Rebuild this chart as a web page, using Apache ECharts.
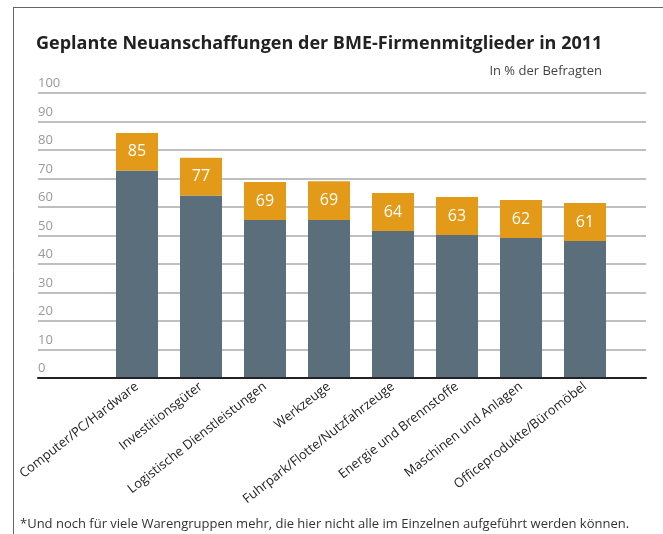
<!DOCTYPE html>
<html>
<head>
<meta charset="utf-8">
<script src="https://cdn.jsdelivr.net/npm/echarts@6/dist/echarts.min.js"></script>
<style>
html,body{margin:0;padding:0;background:#fff;}
#c{width:663px;height:534px;}
</style>
</head>
<body>
<div id="c"></div>
<script>
const categories = ["Computer/PC/Hardware","Investitionsgüter","Logistische Dienstleistungen","Werkzeuge","Fuhrpark/Flotte/Nutzfahrzeuge","Energie und Brennstoffe","Maschinen und Anlagen","Officeprodukte/Büromöbel"];
const totals = [85, 77, 69, 69, 64, 63, 62, 61];
const baseValues = [72.8, 64.0, 55.4, 55.4, 51.6, 50.2, 49.1, 48.1];
const labelBoxValues = [13.2, 13.3, 13.4, 13.6, 13.3, 13.3, 13.4, 13.3];
const yTicks = [0, 100, 10];

const FONT = '"Open Sans", "Noto Sans", sans-serif';
const chart = echarts.init(document.getElementById('c'));
chart.setOption({
  animation: false,
  textStyle: {fontFamily: FONT},
  title: {
    text: 'Geplante Neuanschaffungen der BME-Firmenmitglieder in 2011',
    left: 31, top: 30,
    textStyle: {fontFamily: FONT, fontSize: 18, fontWeight: 'bold', color: '#222'}
  },
  graphic: [
    {type: 'line', shape: {x1: 13.5, y1: 7, x2: 13.5, y2: 534}, style: {stroke: '#666', lineWidth: 1}},
    {type: 'line', shape: {x1: 13, y1: 7.5, x2: 663, y2: 7.5}, style: {stroke: '#666', lineWidth: 1}},
    {type: 'text', right: 61, top: 65, style: {text: 'In % der Befragten', fill: '#444', font: '13px ' + FONT}},
    {type: 'text', left: 20, top: 518, style: {text: '*Und noch für viele Warengruppen mehr, die hier nicht alle im Einzelnen aufgeführt werden können.', fill: '#333', font: '13px ' + FONT}}
  ],
  grid: [
    {left: 105, right: 46, top: 93, bottom: 156},
    {left: 38, right: 17, top: 93, bottom: 156}
  ],
  xAxis: [
    {type: 'category', gridIndex: 0, data: categories,
     axisLine: {show: false}, axisTick: {show: false},
     axisLabel: {rotate: 38, margin: 7, fontSize: 13, color: '#222', fontFamily: FONT, interval: 0}},
    {type: 'value', gridIndex: 1, min: 0, max: 1,
     axisLabel: {show: false}, axisTick: {show: false}, splitLine: {show: false},
     axisLine: {show: true, lineStyle: {color: '#222', width: 2}}, z: 5}
  ],
  yAxis: [
    {type: 'value', gridIndex: 0, min: yTicks[0], max: yTicks[1], show: false, splitLine: {show: false}},
    {type: 'value', gridIndex: 1, min: yTicks[0], max: yTicks[1], interval: yTicks[2],
     axisLine: {show: false}, axisTick: {show: false},
     splitLine: {show: true, lineStyle: {color: '#aaa', width: 1.5}},
     axisLabel: {inside: true, margin: 0, verticalAlign: 'bottom', padding: [0, 0, 3, 0], fontSize: 13, color: '#999', fontFamily: FONT}}
  ],
  series: [
    {type: 'bar', xAxisIndex: 0, yAxisIndex: 0, stack: 's', data: baseValues, barWidth: 42,
     itemStyle: {color: '#5a6e7b'}, z: 3},
    {type: 'bar', xAxisIndex: 0, yAxisIndex: 0, stack: 's', data: labelBoxValues, barWidth: 42,
     itemStyle: {color: '#e29a18'}, z: 3,
     label: {show: true, position: 'inside', color: '#fff', fontSize: 16, fontFamily: FONT,
       formatter: p => String(totals[p.dataIndex])}}
  ]
});
</script>
</body>
</html>
